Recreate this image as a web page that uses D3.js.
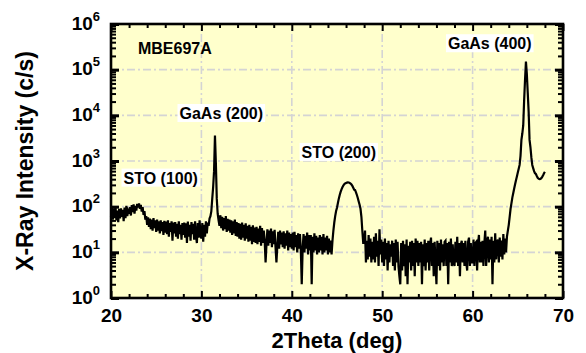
<!DOCTYPE html>
<html>
<head>
<meta charset="utf-8">
<script src="https://cdn.jsdelivr.net/npm/d3@7"></script>
<style>
  body { margin: 0; background: #fff; }
  svg { display: block; font-family: "Liberation Sans", Arial, sans-serif; font-weight: bold; }
</style>
</head>
<body>
<div id="chart"></div>
<script>
// XRD scan, 2theta from 20 deg in 0.1 deg steps
const scanStart = 20.0;
const scanStep = 0.1;
const intensity = [
  60, 95, 52, 88, 58, 100, 50, 82, 46, 90,         // 20
  55, 92, 60, 85, 48, 96, 56, 104, 62, 80,         // 21
  70, 98, 64, 108, 76, 112, 70, 104, 82, 115,      // 22
  96, 118, 90, 110, 78, 98, 66, 80, 52, 62,        // 23
  40, 58, 36, 55, 32, 52, 30, 56, 34, 50,          // 24
  28, 52, 30, 48, 26, 50, 29, 46, 24, 49,          // 25
  27, 47, 25, 50, 22, 44, 28, 48, 18, 45,          // 26
  26, 46, 22, 42, 20, 48, 25, 40, 19, 44,          // 27
  24, 45, 21, 43, 16, 47, 22, 40, 18, 46,          // 28
  25, 42, 19, 48, 23, 16, 44, 21, 50, 24,          // 29
  20, 44, 17, 40, 22, 48, 26, 45, 38, 55,          // 30
  62, 80, 150, 270, 600, 3600, 900, 150, 70, 50,   // 31  GaAs (200)
  38, 65, 34, 60, 30, 56, 32, 62, 28, 54,          // 32
  30, 52, 27, 50, 24, 48, 26, 52, 23, 46,          // 33
  22, 44, 20, 42, 19, 45, 21, 40, 18, 43,          // 34
  20, 38, 17, 40, 18, 36, 15, 39, 17, 35,          // 35
  16, 36, 15, 33, 17, 38, 14, 34, 16, 30,          // 36
  18, 6, 15, 32, 14, 30, 16, 33, 13, 29,           // 37
  15, 31, 13, 6, 14, 28, 12, 30, 15, 27,           // 38
  13, 29, 12, 26, 14, 30, 11, 27, 13, 25,          // 39
  12, 27, 11, 28, 13, 24, 10, 26, 12, 25,          // 40
  11, 2, 12, 25, 10, 23, 12, 27, 9, 24,            // 41
  11, 24, 2, 22, 10, 26, 11, 23, 9, 21,            // 42
  10, 24, 11, 22, 9, 25, 10, 21, 11, 23,           // 43
  9, 20, 10, 18, 9, 18, 30, 45, 62, 80,            // 44
  95, 120, 150, 180, 210, 240, 265, 290, 310, 322, // 45  STO (200)
  330, 336, 340, 338, 332, 320, 305, 285, 260, 235,// 46
  230, 205, 180, 155, 130, 110, 90, 60, 30, 16,    // 47
  16, 30, 6, 18, 7, 24, 8, 20, 6, 17,              // 48
  7, 22, 6, 26, 8, 18, 5, 32, 9, 19,               // 49
  6, 17, 5, 20, 7, 16, 4, 18, 6, 15,               // 50
  8, 18, 5, 16, 4, 19, 6, 17, 5, 3,                // 51
  2, 16, 4, 18, 5, 15, 3, 19, 2, 14,               // 52
  6, 17, 4, 18, 5, 16, 3, 20, 6, 18,               // 53
  5, 16, 6, 17, 2, 15, 5, 19, 4, 16,               // 54
  6, 18, 4, 15, 21, 5, 16, 3, 17, 6,               // 55
  2, 18, 5, 16, 4, 19, 6, 15, 5, 17,               // 56
  18, 5, 16, 2, 17, 6, 20, 5, 15, 6,               // 57
  5, 17, 6, 22, 5, 16, 3, 15, 18, 6,               // 58
  16, 5, 18, 6, 4, 17, 21, 5, 16, 6,               // 59
  6, 19, 5, 16, 17, 4, 15, 24, 6, 17,              // 60
  6, 18, 5, 16, 30, 5, 17, 22, 6, 19,              // 61
  7, 22, 2, 18, 6, 26, 7, 16, 19, 6,               // 62
  21, 8, 18, 7, 25, 9, 20, 10, 22, 30,             // 63
  40, 60, 90, 120, 160, 200, 250, 310, 380, 460,   // 64
  560, 680, 820, 1300, 2900, 4000, 6000, 21000, 60000, 150000, // 65  GaAs (400)
  80000, 31000, 12000, 2900, 2000, 1200, 820, 700, 600, 540,   // 66
  520, 470, 430, 410, 400, 405, 420, 450, 490, 540, // 67
  580
];

const xTicks = [20, 30, 40, 50, 60, 70];
const xMinorTicks = [22, 24, 26, 28, 32, 34, 36, 38, 42, 44, 46, 48, 52, 54, 56, 58, 62, 64, 66, 68];
const yExponents = [0, 1, 2, 3, 4, 5, 6];

const labelTexts = ["MBE697A", "GaAs (200)", "STO (100)", "STO (200)", "GaAs (400)"];
// anchors in data units: [2theta, counts]
const labelAnchors = [[22.98, 2.2e5], [32.2, 8.3e3], [25.5, 3.2e2], [45.2, 1.17e3], [61.9, 2.8e5]];
const labelBoxed = [false, true, true, true, true];

const width = 586, height = 353;
const margin = { left: 111, right: 23, top: 24, bottom: 55 };

const svg = d3.select("#chart").append("svg")
  .attr("width", width)
  .attr("height", height);

const x = d3.scaleLinear().domain([20, 70]).range([margin.left, width - margin.right]);
const y = d3.scaleLog().domain([1, 1e6]).range([height - margin.bottom, margin.top]);

const plotW = x(70) - x(20), plotH = y(1) - y(1e6);

// plot background
svg.append("rect")
  .attr("x", x(20)).attr("y", y(1e6))
  .attr("width", plotW).attr("height", plotH)
  .attr("fill", "#ffffcc");

// grid (dash-dot)
const grid = svg.append("g").attr("stroke", "#d4d4d4").attr("stroke-width", 1.6)
  .attr("stroke-dasharray", "8,3,2,3");
grid.selectAll(".gx").data(xTicks.slice(1, -1)).enter().append("line")
  .attr("x1", d => x(d)).attr("x2", d => x(d))
  .attr("y1", y(1)).attr("y2", y(1e6));
grid.selectAll(".gy").data(yExponents.slice(1, -1)).enter().append("line")
  .attr("y1", d => y(Math.pow(10, d))).attr("y2", d => y(Math.pow(10, d)))
  .attr("x1", x(20)).attr("x2", x(70));

// the scan
const points = intensity.map((v, i) => [scanStart + i * scanStep, v]);
const line = d3.line().x(d => x(d[0])).y(d => y(d[1]));
svg.append("path")
  .datum(points)
  .attr("d", line)
  .attr("fill", "none")
  .attr("stroke", "#000")
  .attr("stroke-width", 2.2)
  .attr("stroke-linejoin", "miter");

// annotations
labelTexts.forEach((t, i) => {
  const g = svg.append("g");
  const txt = g.append("text")
    .attr("x", x(labelAnchors[i][0]))
    .attr("y", y(labelAnchors[i][1]))
    .attr("text-anchor", labelBoxed[i] ? "middle" : "start")
    .attr("font-size", 16)
    .attr("fill", "#000")
    .text(t);
  if (labelBoxed[i]) {
    const b = txt.node().getBBox();
    g.insert("rect", "text")
      .attr("x", b.x - 2).attr("y", b.y - 1)
      .attr("width", b.width + 4).attr("height", b.height + 1)
      .attr("fill", "#fff");
  }
});

// y minor tick values
const yMinor = [];
for (let e = 0; e < 6; e++) for (let m = 2; m <= 9; m++) yMinor.push(m * Math.pow(10, e));
const yMajor = yExponents.map(e => Math.pow(10, e));

// axes: ticks inward on all four sides
function styleAxis(g, w) {
  g.select(".domain").remove();
  g.selectAll(".tick line").attr("stroke", "#000").attr("stroke-width", w);
}

svg.append("g").attr("transform", `translate(0,${y(1)})`)
  .call(d3.axisBottom(x).tickValues(xTicks).tickSize(-7).tickPadding(11).tickFormat(d3.format("d")))
  .call(g => styleAxis(g, 2))
  .call(g => g.selectAll("text").attr("font-size", 19).attr("font-family", "Liberation Sans, Arial, sans-serif").attr("font-weight", "bold").attr("fill", "#000"));
svg.append("g").attr("transform", `translate(0,${y(1)})`)
  .call(d3.axisBottom(x).tickValues(xMinorTicks).tickSize(-4).tickFormat(""))
  .call(g => styleAxis(g, 2));
svg.append("g").attr("transform", `translate(0,${y(1e6)})`)
  .call(d3.axisTop(x).tickValues(xTicks).tickSize(-7).tickFormat(""))
  .call(g => styleAxis(g, 2));
svg.append("g").attr("transform", `translate(0,${y(1e6)})`)
  .call(d3.axisTop(x).tickValues(xMinorTicks).tickSize(-4).tickFormat(""))
  .call(g => styleAxis(g, 2));

const yAxisLeft = svg.append("g").attr("transform", `translate(${x(20)},0)`)
  .call(d3.axisLeft(y).tickValues(yMajor).tickSize(-8).tickFormat(""))
  .call(g => styleAxis(g, 3));
svg.append("g").attr("transform", `translate(${x(20)},0)`)
  .call(d3.axisLeft(y).tickValues(yMinor).tickSize(-5).tickFormat(""))
  .call(g => styleAxis(g, 2));
svg.append("g").attr("transform", `translate(${x(70)},0)`)
  .call(d3.axisRight(y).tickValues(yMajor).tickSize(-8).tickFormat(""))
  .call(g => styleAxis(g, 3));
svg.append("g").attr("transform", `translate(${x(70)},0)`)
  .call(d3.axisRight(y).tickValues(yMinor).tickSize(-5).tickFormat(""))
  .call(g => styleAxis(g, 2));

// y tick labels as 10^n
yAxisLeft.selectAll(".tick").each(function(d) {
  const t = d3.select(this).append("text")
    .attr("x", -11).attr("y", 5)
    .attr("text-anchor", "end")
    .attr("font-size", 19)
    .attr("font-family", "Liberation Sans, Arial, sans-serif")
    .attr("font-weight", "bold")
    .attr("fill", "#000");
  t.append("tspan").text("10");
  t.append("tspan").attr("dy", -9).attr("font-size", 13).text(Math.round(Math.log10(d)));
});

// frame
svg.append("rect")
  .attr("x", x(20)).attr("y", y(1e6))
  .attr("width", plotW).attr("height", plotH)
  .attr("fill", "none").attr("stroke", "#000").attr("stroke-width", 2.6);

// axis titles
svg.append("text")
  .attr("x", (x(20) + x(70)) / 2)
  .attr("y", 348)
  .attr("text-anchor", "middle")
  .attr("font-size", 22)
  .text("2Theta (deg)");
svg.append("text")
  .attr("transform", `translate(33,${(y(1) + y(1e6)) / 2}) rotate(-90)`)
  .attr("text-anchor", "middle")
  .attr("font-size", 23)
  .text("X-Ray Intensity (c/s)");
</script>
</body>
</html>
